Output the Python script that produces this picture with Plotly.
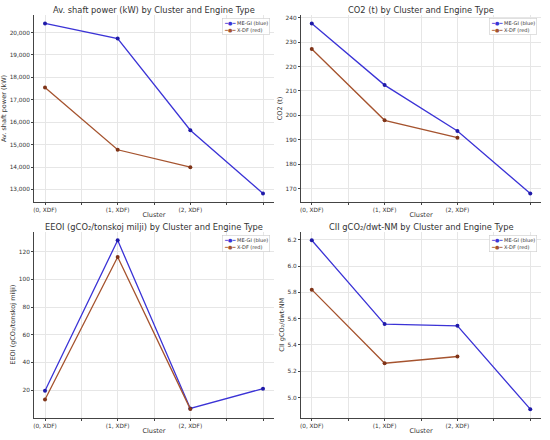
import plotly.graph_objects as go
from plotly.subplots import make_subplots

# x positions: three labelled clusters plus one unlabeled (ME-GI only)
clusters = [0, 1, 2, 3]
tick_pos = [0, 0.5, 1, 1.5, 2, 2.5, 3]
tick_text = ['(0, XDF)', '', '(1, XDF)', '', '(2, XDF)', '', '']

shaft_megi = [20405, 19730, 15640, 12820]
shaft_xdf = [17545, 14770, 13995]

co2_megi = [237.6, 212.4, 193.6, 168.1]
co2_xdf = [227.2, 198.0, 190.9]

eeoi_megi = [19.5, 128.2, 6.7, 21.0]
eeoi_xdf = [13.2, 116.1, 6.2]

cii_megi = [6.197, 5.559, 5.546, 4.911]
cii_xdf = [5.821, 5.261, 5.312]

titles = ['Av. shaft power (kW) by Cluster and Engine Type',
          'CO2 (t) by Cluster and Engine Type',
          'EEOI (gCO₂/tonskoj milji) by Cluster and Engine Type',
          'CII gCO₂/dwt-NM by Cluster and Engine Type']
ylabels = ['Av. shaft power (kW)', 'CO2 (t)',
           'EEOI (gCO₂/tonskoj milji)', 'CII gCO₂/dwt-NM']
series_names = ['ME-GI (blue)', 'X-DF (red)']

panels = [(shaft_megi, shaft_xdf), (co2_megi, co2_xdf),
          (eeoi_megi, eeoi_xdf), (cii_megi, cii_xdf)]

blue = '#3b33d6'
blue_dark = '#1f1aa8'
red = '#a5532e'
red_dark = '#7f3418'
font = 'DejaVu Sans'
grey = '#444444'
txt = '#333333'

fig = make_subplots(rows=2, cols=2)

xdom = [[0.062, 0.498], [0.547, 0.984]]
ydom = [[0.541, 0.966], [0.051, 0.473]]
ranges = [[12441, 20784], [164.6, 241.1], [0.1, 134.3], [4.847, 6.261]]
ytickfmt = [',d', '', '', '.1f']
dticks = [1000, 10, 20, 0.2]

# compact matplotlib-like legend text
legend_text = ('<span style="color:%s">━●━</span> %s<br>'
               '<span style="color:%s">━●━</span> %s'
               % (blue, series_names[0], red, series_names[1]))

for i, (megi, xdf) in enumerate(panels):
    r, c = i // 2 + 1, i % 2 + 1
    fig.add_trace(go.Scatter(x=clusters, y=megi, mode='lines+markers', name=series_names[0],
                             line=dict(color=blue, width=1.3),
                             marker=dict(color=blue_dark, size=4), showlegend=False),
                  row=r, col=c)
    fig.add_trace(go.Scatter(x=clusters[:3], y=xdf, mode='lines+markers', name=series_names[1],
                             line=dict(color=red, width=1.3),
                             marker=dict(color=red_dark, size=4), showlegend=False),
                  row=r, col=c)
    xd, yd = xdom[c - 1], ydom[r - 1]
    fig.update_xaxes(domain=xd, range=[-0.15, 3.15], tickvals=tick_pos, ticktext=tick_text,
                     showgrid=True, gridcolor='#e6e6e6', gridwidth=0.6, automargin=False,
                     showline=True, linecolor=grey, linewidth=1, ticks='outside',
                     ticklen=2, tickcolor=grey, tickfont=dict(size=5.8, color=txt, family=font),
                     title=dict(text='Cluster', font=dict(size=6.5, color=txt, family=font),
                                standoff=0),
                     zeroline=False, row=r, col=c)
    fig.update_yaxes(domain=yd, range=ranges[i], dtick=dticks[i], tickformat=ytickfmt[i],
                     showgrid=True, gridcolor='#e6e6e6', gridwidth=0.6, automargin=False,
                     showline=True, linecolor=grey, linewidth=1, ticks='outside',
                     ticklen=2, tickcolor=grey, tickfont=dict(size=5.8, color=txt, family=font),
                     title=dict(text=ylabels[i], font=dict(size=6.5, color=txt, family=font),
                                standoff=2),
                     zeroline=False, row=r, col=c)
    fig.add_annotation(text=titles[i], x=(xd[0] + xd[1]) / 2, y=yd[1],
                       xref='paper', yref='paper', xanchor='center', yanchor='middle',
                       yshift=5, showarrow=False, font=dict(size=8.3, color=txt, family=font))
    fig.add_annotation(text=legend_text, x=xd[1] - 0.008, y=yd[1] - 0.008,
                       xref='paper', yref='paper', xanchor='right', yanchor='top',
                       align='left', showarrow=False, bgcolor='rgba(255,255,255,0.9)',
                       bordercolor='#cccccc', borderwidth=0.6, borderpad=1.5,
                       font=dict(size=5, color=txt, family=font))

fig.update_layout(width=550, height=440, margin=dict(l=0, r=0, t=0, b=0),
                  plot_bgcolor='white', paper_bgcolor='white',
                  font=dict(family=font), showlegend=False)

# drop the browser's default body margin so the figure fills the window
fig.write_html("out.html", config={'displayModeBar': False},
               post_script="document.body.style.margin='0';")
